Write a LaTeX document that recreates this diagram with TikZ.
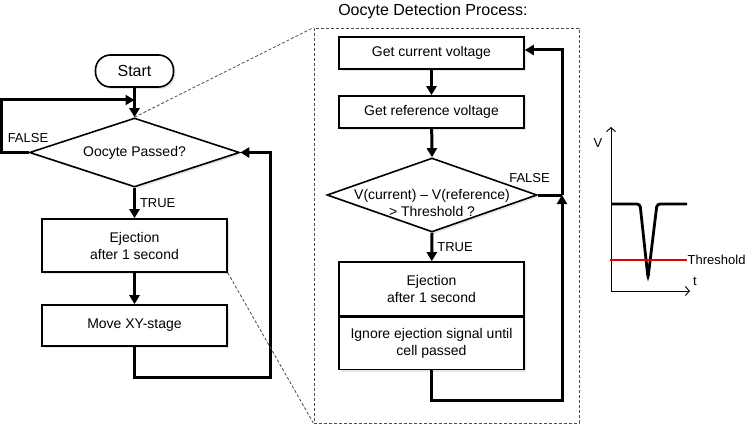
\documentclass[tikz,border=0pt]{standalone}
\usepackage{fontspec}
\setmainfont{Liberation Sans}
\usetikzlibrary{arrows.meta,shapes.geometric,shadows}

\begin{document}
\begin{tikzpicture}[x=1pt,y=-1pt,
  font=\fontsize{14}{17}\selectfont,
  box/.style={draw, line width=1.6pt, fill=white, minimum width=185pt, align=center, inner sep=2pt,
    drop shadow={opacity=0.2, shadow xshift=2pt, shadow yshift=-2pt}},
  decision/.style={draw, diamond, line width=1.6pt, fill=white, minimum width=210pt, inner sep=0pt,
    drop shadow={opacity=0.2, shadow xshift=2pt, shadow yshift=-2pt}},
  flow/.style={line width=3pt, -{Triangle[length=9pt,width=10pt]}},
  thickline/.style={line width=3pt},
  zoomline/.style={densely dashed, gray!60!black, line width=0.8pt},
  lbl/.style={font=\fontsize{13}{15}\selectfont, inner sep=1pt},
  axis/.style={line width=0.9pt, -{Straight Barb[length=4pt,width=9pt]}},
  ]
\useasboundingbox (0,0) rectangle (749,425);

% main loop
\node[draw, rounded corners=15pt, line width=1.6pt, fill=white, minimum width=78pt, minimum height=32pt,
  font=\fontsize{16}{18}\selectfont, drop shadow={opacity=0.2, shadow xshift=2pt, shadow yshift=-2pt}] (start) at (134.5,71) {Start};
\node[decision, minimum height=69pt] (pass) at (134.5,152.5) {};
\node (passtext) at (pass) {Oocyte Passed?};
\node[box, minimum height=53pt] (eject) at (134.5,245.5) {Ejection\\after 1 second};
\node[box, minimum height=41pt] (move) at (134.5,325.5) {Move XY-stage};

\coordinate (join) at (134.5,100);
\coordinate (backR) at (270,377);
\node[lbl] (falseA) at (28,138) {FALSE};

\draw[flow] (start.south) -- (pass.north);
\draw[flow] (pass.west) -- ++(-27,0) |- (join);
\draw[flow] (pass.south) -- node[lbl, right=3pt] (trueA) {TRUE} (eject.north);
\draw[flow] (eject) -- (move);
\draw[flow] (move.south) |- (backR) |- (pass.east);

% detection process
\node[draw, densely dashed, line width=0.9pt, gray!60!black, minimum width=265pt, minimum height=395pt] (detect) at (446.5,225.5) {};
\node[font=\fontsize{16}{18}\selectfont] (title) at (433,11) {Oocyte Detection Process:};

\node[box, minimum height=32pt] (cur) at (431.5,53) {Get current voltage};
\node[box, minimum height=32pt] (ref) at (431.5,112) {Get reference voltage};
\node[decision, minimum height=74pt] (cmp) at (432,195) {};
\node[align=center] (cmptext) at (432,203) {V(current) – V(reference)\\> Threshold ?};
\node[box, minimum height=54pt] (eject2) at (431.5,289) {Ejection\\after 1 second};
\node[box, minimum height=52pt, anchor=north] (ignore) at (eject2.south) {Ignore ejection signal until\\cell passed};

\coordinate (joinR) at (562,195);
\coordinate (botR) at (562,400);
\node[lbl] (falseB) at (529.5,178) {FALSE};

\draw[flow] (cur) -- (ref);
\draw[flow] (ref) -- (cmp.north);
\draw[flow] (cmp.south) -- node[lbl, right=3pt] (trueB) {TRUE} (eject2);
\draw[thickline] (cmp.east) -- (joinR);
\draw[flow] (ignore.south) |- (botR) -- (joinR);
\draw[flow] (joinR) |- ([yshift=3pt]cur.east);

% zoom lines
\draw[zoomline] (pass.north) -- (detect.north west);
\draw[zoomline] (eject.south east) -- (detect.south west);

% signal sketch
\coordinate (origin) at (611,291);
\coordinate (vtop) at (611,127);
\coordinate (tend) at (690,291);
\draw[axis] (origin) -- (vtop);
\draw[axis] (origin) -- (tend);
\node[lbl] (vlabel) at (598,143) {V};
\node[lbl] (tlabel) at (695,281) {t};
\draw[line width=2.8pt, rounded corners=3pt] (611,204) -- (640,204) -- (648,278) -- (657,204) -- (687,204);
\draw[red!90!black, line width=1.4pt] (610,260) -- (687,260) node[lbl, right, inner sep=0pt, black] (thr) {Threshold};
\end{tikzpicture}
\end{document}
